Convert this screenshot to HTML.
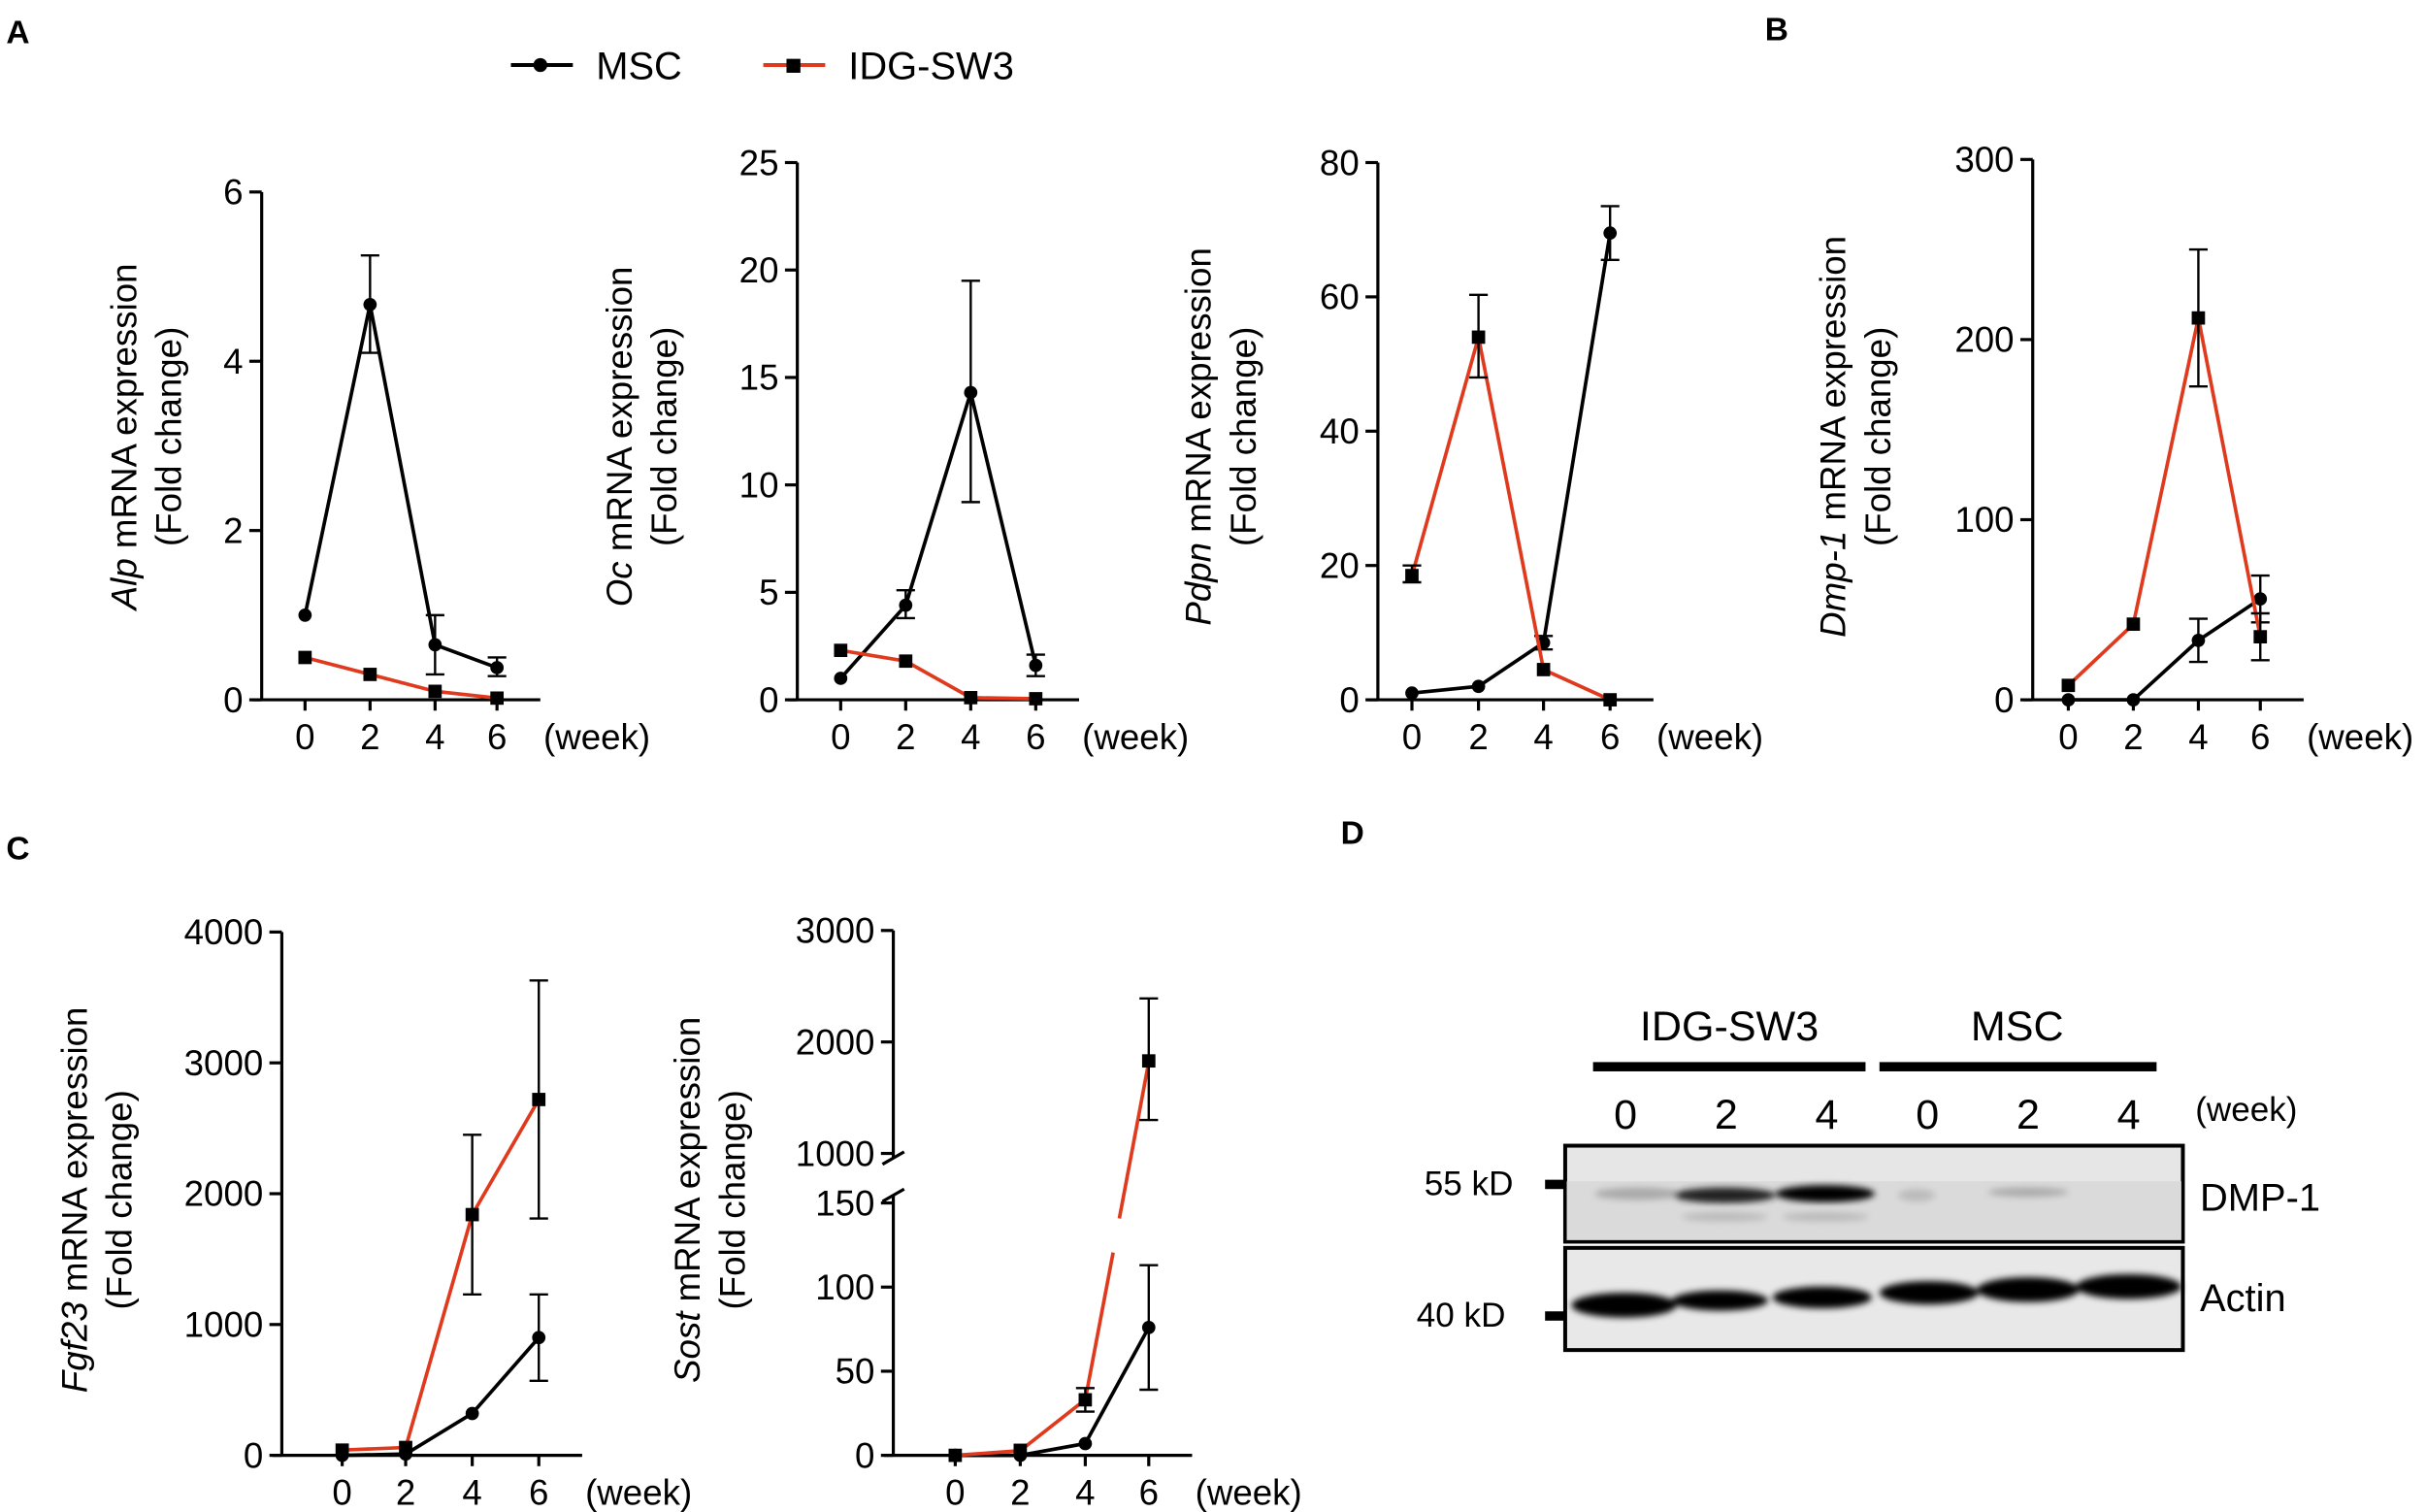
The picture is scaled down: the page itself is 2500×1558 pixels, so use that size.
<!DOCTYPE html>
<html><head><meta charset="utf-8"><style>
html,body{margin:0;padding:0;background:#fff;}
svg{display:block;}
text{font-family:"Liberation Sans",Arial,sans-serif;fill:#000;}
</style></head><body>
<svg id="s" width="2500" height="1558" viewBox="0 0 1567 976.6" xmlns="http://www.w3.org/2000/svg">
<defs>
<filter id="bl" x="-20%" y="-50%" width="140%" height="200%"><feGaussianBlur stdDeviation="2.2"/></filter>
<filter id="bl2" x="-20%" y="-50%" width="140%" height="200%"><feGaussianBlur stdDeviation="3.5"/></filter>
</defs>
<text x="4" y="28" font-size="21" font-weight="bold">A</text>
<text x="1140" y="26" font-size="21" font-weight="bold">B</text>
<text x="4" y="555" font-size="21" font-weight="bold">C</text>
<text x="866" y="545" font-size="21" font-weight="bold">D</text>
<line x1="330" y1="42" x2="370" y2="42" stroke="#000" stroke-width="2.5"/><circle cx="349" cy="42" r="4.5"/>
<text x="385" y="51" font-size="25">MSC</text>
<line x1="493" y1="42" x2="533" y2="42" stroke="#e03a1e" stroke-width="2.5"/><rect x="508" y="38" width="9" height="9"/>
<text x="548" y="51" font-size="25">IDG-SW3</text>
<g id="charts"></g>
<!-- Blot D -->
<text x="1117" y="672" font-size="27" text-anchor="middle">IDG-SW3</text>
<text x="1303" y="672" font-size="27" text-anchor="middle">MSC</text>
<rect x="1029" y="686" width="176" height="6"/>
<rect x="1214" y="686" width="179" height="6"/>
<g font-size="27" text-anchor="middle">
<text x="1050" y="729">0</text><text x="1115" y="729">2</text><text x="1180" y="729">4</text>
<text x="1245" y="729">0</text><text x="1310" y="729">2</text><text x="1375" y="729">4</text>
</g>
<text x="1418" y="724" font-size="22">(week)</text>
<rect x="1011" y="740" width="399" height="62" fill="#e6e6e6" stroke="#000" stroke-width="2.5"/>
<rect x="1012" y="763" width="397" height="38" fill="#dadada"/>
<g filter="url(#bl)">
<ellipse cx="1058" cy="771" rx="28" ry="4" fill="#aaa"/>
<ellipse cx="1114" cy="772" rx="33" ry="5" fill="#222"/>
<ellipse cx="1179" cy="771" rx="32" ry="5.5" fill="#000"/>
<ellipse cx="1114" cy="786" rx="28" ry="3" fill="#bbb"/>
<ellipse cx="1179" cy="786" rx="28" ry="3" fill="#bbb"/>
<ellipse cx="1238" cy="772" rx="12" ry="4" fill="#bbb"/>
<ellipse cx="1310" cy="770" rx="26" ry="3" fill="#aaa"/>
</g>
<rect x="1011" y="806" width="399" height="66" fill="#e8e8e8" stroke="#000" stroke-width="2.5"/>
<g filter="url(#bl)">
<ellipse cx="1049" cy="843" rx="34" ry="8" fill="#000"/>
<ellipse cx="1111" cy="840" rx="31" ry="6.5" fill="#000"/>
<ellipse cx="1177" cy="838" rx="32" ry="7" fill="#000"/>
<ellipse cx="1246" cy="835" rx="32" ry="7.5" fill="#000"/>
<ellipse cx="1310" cy="833" rx="33" ry="8" fill="#000"/>
<ellipse cx="1375" cy="831" rx="34" ry="8" fill="#000"/>
</g>
<rect x="998" y="762" width="13" height="6"/>
<rect x="998" y="847" width="13" height="6"/>
<text x="920" y="772" font-size="22">55 kD</text>
<text x="915" y="857" font-size="22">40 kD</text>
<text x="1421" y="782" font-size="25">DMP-1</text>
<text x="1421" y="847" font-size="25">Actin</text>
</svg>
<script>
var NS="http://www.w3.org/2000/svg",G=document.getElementById("charts");
var RED="#e03a1e";
function el(t,a,p){var e=document.createElementNS(NS,t);for(var k in a)e.setAttribute(k,a[k]);(p||G).appendChild(e);return e;}
function tx(x,y,s,a,p){var e=el("text",Object.assign({x:x,y:y},a||{}),p);e.textContent=s;return e;}
function chart(c){
  var L={stroke:"#000","stroke-width":2};
  var xl=c.ax-6, xr=c.xt[3]+28;
  el("line",Object.assign({x1:xl,y1:c.y0,x2:xr,y2:c.y0},L));
  c.xt.forEach(function(x,i){el("line",Object.assign({x1:x,y1:c.y0,x2:x,y2:c.y0+7},L));tx(x,c.y0+32,String(i*2),{"font-size":23,"text-anchor":"middle"});});
  tx(xr+2,c.y0+32,"(week)",{"font-size":23});
  // y axis segments
  c.segs.forEach(function(s){
    el("line",Object.assign({x1:c.ax,y1:s.top,x2:c.ax,y2:s.bot},L));
    s.ticks.forEach(function(t){var y=s.map(t);el("line",Object.assign({x1:c.ax-8,y1:y,x2:c.ax,y2:y},L));tx(c.ax-12,y+8,String(t),{"font-size":23,"text-anchor":"end"});});
  });
  // label
  var g=el("g",{transform:"translate("+c.lx+","+c.ly+") rotate(-90)"});
  var t1=tx(0,0,"",{"font-size":23,"text-anchor":"middle"},g);
  var i1=document.createElementNS(NS,"tspan");i1.setAttribute("font-style","italic");i1.textContent=c.gene;t1.appendChild(i1);
  var i2=document.createElementNS(NS,"tspan");i2.textContent=" mRNA expression";t1.appendChild(i2);
  tx(0,29,"(Fold change)",{"font-size":23,"text-anchor":"middle"},g);
  // series
  [["msc","#000"],["idg",RED]].forEach(function(p){
    var d=c[p[0]],pts=d.v.map(function(v,i){return [c.xt[i],c.map(v)];});
    if(d.lines){d.lines.forEach(function(ln){el("line",{x1:ln[0],y1:ln[1],x2:ln[2],y2:ln[3],stroke:p[1],"stroke-width":2.3});});}
    else el("polyline",{points:pts.map(function(q){return q.join(",")}).join(" "),fill:"none",stroke:p[1],"stroke-width":2.3});
    (d.e||[]).forEach(function(e,i){if(!e)return;var x=c.xt[i],y1=c.map(e[0]),y2=c.map(e[1]);
      el("line",{x1:x,y1:y1,x2:x,y2:y2,stroke:"#000","stroke-width":1.5});
      el("line",{x1:x-6,y1:y1,x2:x+6,y2:y1,stroke:"#000","stroke-width":1.5});
      el("line",{x1:x-6,y1:y2,x2:x+6,y2:y2,stroke:"#000","stroke-width":1.5});});
    pts.forEach(function(q){if(p[0]=="msc")el("circle",{cx:q[0],cy:q[1],r:4.3});else el("rect",{x:q[0]-4.3,y:q[1]-4.3,width:8.6,height:8.6});});
  });
}
function lin(v0,p0,v1,p1){return function(v){return p0+(v-v0)*(p1-p0)/(v1-v0);};}
var m;
m=lin(0,452,6,124);
chart({ax:169,y0:452,xt:[197,239,281,321],map:m,segs:[{top:124,bot:452,ticks:[0,2,4,6],map:m}],lx:88,ly:282,gene:"Alp",
 msc:{v:[1,4.67,0.65,0.38],e:[0,[4.1,5.25],[0.3,1.0],[0.28,0.5]]},idg:{v:[0.5,0.3,0.1,0.02]}});
m=lin(0,452,25,105);
chart({ax:515,y0:452,xt:[543,585,627,669],map:m,segs:[{top:105,bot:452,ticks:[0,5,10,15,20,25],map:m}],lx:408,ly:282,gene:"Oc",
 msc:{v:[1,4.4,14.3,1.6],e:[0,[3.8,5.1],[9.2,19.5],[1.1,2.1]]},idg:{v:[2.3,1.8,0.1,0.05]}});
m=lin(0,452,80,105);
chart({ax:890,y0:452,xt:[912,955,997,1040],map:m,segs:[{top:105,bot:452,ticks:[0,20,40,60,80],map:m}],lx:782,ly:282,gene:"Pdpn",
 msc:{v:[1,2,8.5,69.5],e:[0,0,[7.5,9.5],[65.5,73.5]]},idg:{v:[18.5,54,4.5,0],e:[[17.5,20],[48,60.3],0,0]}});
m=lin(0,452,300,103);
chart({ax:1313,y0:452,xt:[1336,1378,1420,1460],map:m,segs:[{top:103,bot:452,ticks:[0,100,200,300],map:m}],lx:1192,ly:282,gene:"Dmp-1",
 msc:{v:[0,0,33,56],e:[0,0,[21,45],[43,69]]},idg:{v:[8,42,212,35],e:[0,0,[174,250],[22,48]]}});
m=lin(0,940,4000,602);
chart({ax:182,y0:940,xt:[221,262,305,348],map:m,segs:[{top:602,bot:940,ticks:[0,1000,2000,3000,4000],map:m}],lx:56,ly:775,gene:"Fgf23",
 msc:{v:[0,10,320,900],e:[0,0,0,[570,1230]]},idg:{v:[40,60,1840,2720],e:[0,0,[1230,2450],[1810,3630]]}});
var lo=lin(0,940,150,777),hi=lin(1000,745,3000,601);
function sm(v){return v<=150?lo(v):hi(v);}
chart({ax:577,y0:940,xt:[617,659,701,742],map:sm,segs:[{top:601,bot:748,ticks:[1000,2000,3000],map:hi},{top:772,bot:940,ticks:[0,50,100,150],map:lo}],lx:452,ly:775,gene:"Sost",
 msc:{v:[0,0,7,76],e:[0,0,0,[39,113]]},idg:{v:[0,3,33,1830],e:[0,0,[26,40],[1300,2390]],
 lines:[[617,940,659,937],[659,937,701,904],[701,904,719,809],[723,787,742,686]]}});
// break marks
el("line",{x1:570,y1:752,x2:584,y2:744,stroke:"#000","stroke-width":2});
el("line",{x1:570,y1:776,x2:584,y2:768,stroke:"#000","stroke-width":2});
</script>
</body></html>
